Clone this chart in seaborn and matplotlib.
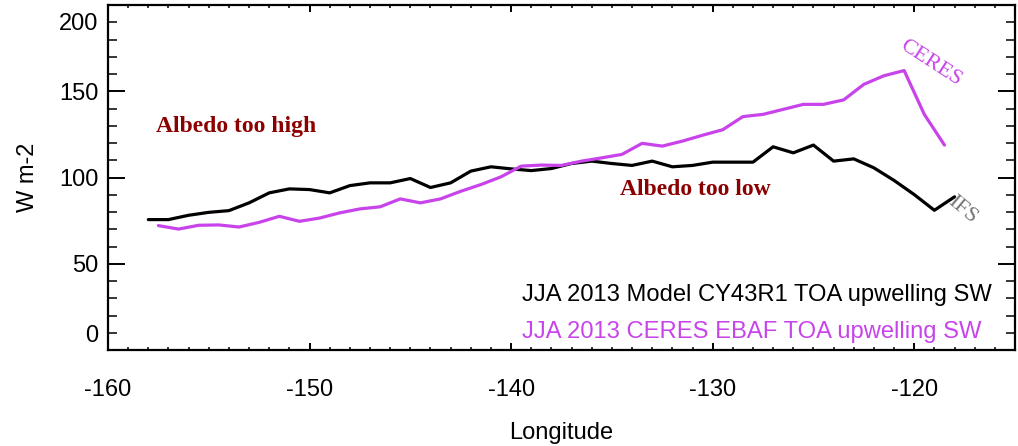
import matplotlib
matplotlib.use("Agg")
import matplotlib.pyplot as plt
import matplotlib.transforms as mtransforms
from matplotlib.ticker import MultipleLocator
import numpy as np
import pandas as pd
import seaborn as sns

# ---- data ----
model_lon = [-158, -157, -156, -155, -154, -153, -152, -151, -150, -149,
             -148, -147, -146, -145, -144, -143, -142, -141, -140, -139,
             -138, -137, -136, -135, -134, -133, -132, -131, -130, -129,
             -128, -127, -126, -125, -124, -123, -122, -121, -120, -119, -118]
model_sw = [75.6, 75.6, 78.1, 79.8, 80.8, 85.3, 91.1, 93.4, 93.0, 91.1,
            95.3, 96.9, 96.9, 99.4, 94.2, 96.9, 103.7, 106.2, 105.0, 104.0,
            105.2, 108.1, 109.5, 108.1, 107.0, 109.5, 106.2, 107.0, 108.9, 108.9,
            108.9, 117.8, 114.3, 118.8, 109.5, 110.8, 105.6, 98.3, 90.1, 81.0, 88.8]

ceres_lon = [-157.5, -156.5, -155.5, -154.5, -153.5, -152.5, -151.5, -150.5, -149.5, -148.5,
             -147.5, -146.5, -145.5, -144.5, -143.5, -142.5, -141.5, -140.5, -139.5, -138.5,
             -137.5, -136.5, -135.5, -134.5, -133.5, -132.5, -131.5, -130.5, -129.5, -128.5,
             -127.5, -126.5, -125.5, -124.5, -123.5, -122.5, -121.5, -120.5, -119.5, -118.5]
ceres_sw = [72.1, 70.1, 72.3, 72.5, 71.3, 74.0, 77.5, 74.6, 76.5, 79.5,
            81.8, 83.0, 87.6, 85.3, 87.6, 92.0, 95.9, 100.4, 106.6, 107.2,
            107.0, 109.5, 111.4, 113.4, 119.8, 118.2, 121.1, 124.5, 127.7, 135.3,
            136.6, 139.5, 142.4, 142.4, 145.0, 154.0, 159.0, 162.0, 136.6, 118.8]

legend_model = "JJA 2013 Model CY43R1 TOA upwelling SW"
legend_ceres = "JJA 2013 CERES EBAF TOA upwelling SW"
x_label = "Longitude"
y_label = "W m-2"
x_ticks = [-160, -150, -140, -130, -120]
y_ticks = [0, 50, 100, 150, 200]

MAGENTA = "#C844EA"
DARKRED = "#8B0000"

sns.set_style("ticks")
plt.rcParams['font.family'] = ['Liberation Sans', 'DejaVu Sans']
plt.rcParams['text.color'] = 'black'
plt.rcParams['axes.labelcolor'] = 'black'
plt.rcParams['xtick.color'] = 'black'
plt.rcParams['ytick.color'] = 'black'

fig = plt.figure(figsize=(10.18, 4.46), dpi=100)
ax = fig.add_axes([108/1018, 1 - 350/446, (1015-108)/1018, (350-5)/446])

df_m = pd.DataFrame({"lon": model_lon, "sw": model_sw})
df_c = pd.DataFrame({"lon": ceres_lon, "sw": ceres_sw})
sns.lineplot(data=df_m, x="lon", y="sw", ax=ax, color="black", linewidth=2.3)
sns.lineplot(data=df_c, x="lon", y="sw", ax=ax, color=MAGENTA, linewidth=2.3)

ax.set_xlim(-160, -115)
ax.set_ylim(0, 200)
ax.set_xticks(x_ticks)
ax.set_xticklabels([str(v) for v in x_ticks])
ax.set_yticks(y_ticks)
ax.set_yticklabels([str(v) for v in y_ticks])
ax.xaxis.set_minor_locator(MultipleLocator(1))
ax.yaxis.set_minor_locator(MultipleLocator(10))

for s in ax.spines.values():
    s.set_linewidth(1.6)
    s.set_color("black")
    s.set_visible(True)

ax.tick_params(axis="x", which="major", direction="in", length=5, width=1.4,
               top=True, bottom=True, labelsize=17, pad=21)
ax.tick_params(axis="x", which="minor", direction="in", length=2.5, width=1.1,
               top=True, bottom=True)
ax.tick_params(axis="y", which="major", direction="in", length=12, width=1.4,
               left=True, right=True, labelsize=17, pad=7)
ax.tick_params(axis="y", which="minor", direction="in", length=6.5, width=1.1,
               left=True, right=True)

ax.set_xlabel(x_label, fontsize=17, labelpad=15)
ax.set_ylabel(y_label, fontsize=17, labelpad=14)

# first and last y labels sit one minor step inside the frame, as in the reference
yt = ax.yaxis.get_major_ticks()
up = mtransforms.ScaledTranslation(0, 17/100, fig.dpi_scale_trans)
down = mtransforms.ScaledTranslation(0, -17/100, fig.dpi_scale_trans)
yt[0].label1.set_transform(yt[0].label1.get_transform() + up)
yt[-1].label1.set_transform(yt[-1].label1.get_transform() + down)

serif = ['Liberation Serif', 'DejaVu Serif']
ax.text(-157.6, 129.7, "Albedo too high", color=DARKRED, fontsize=17,
        fontweight="bold", family=serif, ha="left", va="center")
ax.text(-134.6, 93.0, "Albedo too low", color=DARKRED, fontsize=17,
        fontweight="bold", family=serif, ha="left", va="center")
ax.text(-119.2, 166.5, "CERES", color=MAGENTA, fontsize=16, family=serif,
        rotation=-33, ha="center", va="center", rotation_mode="anchor")
ax.text(-117.6, 81.0, "IFS", color="#777777", fontsize=16, family=serif,
        rotation=-40, ha="center", va="center", rotation_mode="anchor")

ax.text(0.4565, 0.159, legend_model, color="black", fontsize=17.1,
        transform=ax.transAxes, ha="left", va="center")
ax.text(0.4565, 0.053, legend_ceres, color=MAGENTA, fontsize=17.1,
        transform=ax.transAxes, ha="left", va="center")

fig.savefig("out.png", dpi=100)
